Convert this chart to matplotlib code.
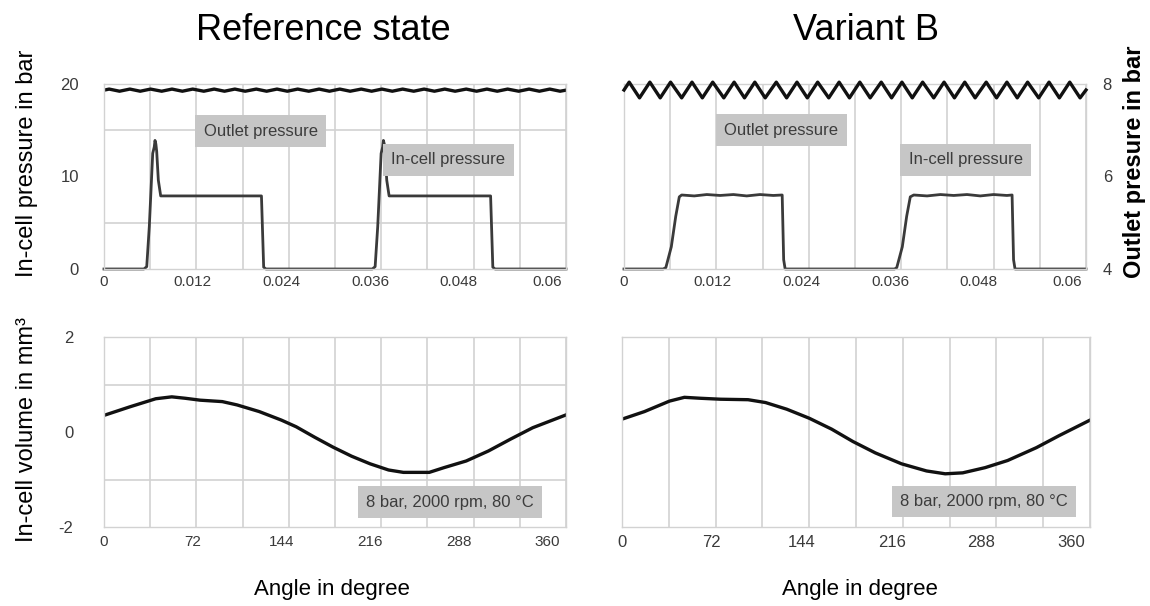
import numpy as np
import matplotlib
matplotlib.use("Agg")
import matplotlib.pyplot as plt
from matplotlib.ticker import MultipleLocator, FixedLocator, FixedFormatter

# ---- data ----
# in-cell pressure, reference state (time in s, pressure in bar)
ref_t = [0, 0.0054, 0.00578, 0.00613, 0.00659, 0.0068, 0.0069, 0.00702, 0.00713,
         0.00735, 0.00767, 0.0213, 0.0216, 0.0219,
         0.0363, 0.03668, 0.03703, 0.03749, 0.0377, 0.0378, 0.03792, 0.03803,
         0.03825, 0.03857, 0.0523, 0.0526, 0.0529, 0.0625]
ref_p = [0, 0, 0.25, 4.6, 12.5, 13.2, 13.9, 13.5, 12.7,
         9.6, 7.9, 7.9, 0.2, 0,
         0, 0.25, 4.6, 12.5, 13.2, 13.9, 13.5, 12.7,
         9.6, 7.9, 7.9, 0.2, 0, 0]

# in-cell pressure, variant B
varb_t = [0, 0.0053, 0.00566, 0.0064, 0.0070, 0.00748, 0.0078, 0.0095, 0.0112,
          0.0130, 0.0148, 0.0166, 0.0184, 0.0202, 0.0214, 0.0216, 0.0218,
          0.0366, 0.0369, 0.03765, 0.03824, 0.03873, 0.0392, 0.0410, 0.0428,
          0.0446, 0.0464, 0.0482, 0.0500, 0.0518, 0.0525, 0.0527, 0.0529, 0.0625]
varb_p = [0, 0, 0.15, 2.4, 5.7, 7.8, 8.0, 7.9, 8.05,
          7.95, 8.05, 7.9, 8.05, 7.95, 8.0, 1.0, 0,
          0, 0.15, 2.4, 5.7, 7.8, 8.0, 7.9, 8.05,
          7.95, 8.05, 7.9, 8.05, 7.95, 8.0, 1.0, 0, 0]

# outlet pressure ripple: peak and trough instants (s)
rip_peak_t = [0.0007, 0.0035, 0.0063, 0.0092, 0.0120, 0.0149, 0.0177, 0.0206,
              0.0234, 0.0262, 0.0291, 0.0319, 0.0348, 0.0376, 0.0404, 0.0433,
              0.0461, 0.0490, 0.0518, 0.0546, 0.0575, 0.0603]
rip_trough_t = [0.0021, 0.0049, 0.0078, 0.0106, 0.0135, 0.0163, 0.0191, 0.0220,
                0.0248, 0.0277, 0.0305, 0.0333, 0.0362, 0.0390, 0.0419, 0.0447,
                0.0475, 0.0504, 0.0532, 0.0561, 0.0589, 0.0617]
ref_outlet_hi, ref_outlet_lo = 19.45, 19.22    # left axis, bar
varb_outlet_hi, varb_outlet_lo = 8.04, 7.70   # right axis, bar

# in-cell volume vs angle
vol_ref_a = [0, 21, 42, 55, 66, 78, 96, 108, 126, 144, 156, 171, 186, 201, 216,
             231, 243, 264, 276, 294, 312, 330, 348, 375]
vol_ref_v = [0.35, 0.53, 0.70, 0.74, 0.71, 0.67, 0.64, 0.57, 0.43, 0.25, 0.11,
             -0.11, -0.32, -0.51, -0.67, -0.80, -0.85, -0.85, -0.75, -0.61,
             -0.40, -0.15, 0.09, 0.36]
vol_b_a = [0, 18, 38, 50, 63, 79, 101, 115, 132, 150, 168, 185, 203, 224, 244,
           259, 273, 291, 309, 332, 350, 375]
vol_b_v = [0.27, 0.43, 0.65, 0.73, 0.71, 0.69, 0.68, 0.62, 0.48, 0.29, 0.06,
           -0.20, -0.44, -0.67, -0.82, -0.88, -0.86, -0.75, -0.60, -0.33, -0.08, 0.25]

top_xticks = [0, 0.012, 0.024, 0.036, 0.048, 0.06]
top_xlabels = ["0", "0.012", "0.024", "0.036", "0.048", "0.06"]
bot_xticks = [0, 72, 144, 216, 288, 360]
bot_xlabels = ["0", "72", "144", "216", "288", "360"]


def ripple(hi, lo):
    t = [0] + sorted(rip_peak_t + rip_trough_t) + [0.0625]
    v = [(hi + lo) / 2]
    for tt in t[1:-1]:
        v.append(hi if tt in rip_peak_t else lo)
    v.append((hi + lo) / 2)
    return t, v


SANS = ["Liberation Sans", "DejaVu Sans"]
NARROW = ["Liberation Sans Narrow", "Liberation Sans", "DejaVu Sans"]
GRID = "#d2d2d2"
TICKC = "#3a3a3a"
BOXC = "#c6c6c6"

fig = plt.figure(figsize=(11.5, 6.06), dpi=100)
W, H = 1150, 606


def axes_px(x0, y0, x1, y1):
    return fig.add_axes([x0 / W, 1 - y1 / H, (x1 - x0) / W, (y1 - y0) / H])


def style(ax, xmax, xstep, xt, xl, ymin, ymax, ystep):
    ax.set_xlim(0, xmax)
    ax.set_ylim(ymin, ymax)
    ax.xaxis.set_minor_locator(MultipleLocator(xstep))
    ax.yaxis.set_minor_locator(MultipleLocator(ystep))
    ax.xaxis.set_major_locator(FixedLocator(xt))
    ax.xaxis.set_major_formatter(FixedFormatter(xl))
    ax.grid(False, which="major")
    ax.grid(True, which="minor", color=GRID, lw=1.2)
    ax.set_axisbelow(True)
    ax.tick_params(which="both", length=0, colors=TICKC)
    for s in ax.spines.values():
        s.set_color(GRID)
        s.set_linewidth(1.0)
    for lab in ax.get_xticklabels() + ax.get_yticklabels():
        lab.set_family(NARROW)
        lab.set_fontsize(11)


def box(ax, x, y, s):
    ax.text(x, y, s, ha="center", va="center", fontsize=12, family=SANS,
            color="#3c3c3c",
            bbox=dict(boxstyle="square,pad=0.5", fc=BOXC, ec="none"))


# top left
ax1 = axes_px(104, 84, 566, 269)
style(ax1, 0.0625, 0.00625, top_xticks, top_xlabels, 0, 20, 5)
ax1.yaxis.set_major_locator(FixedLocator([0, 10, 20]))
ax1.tick_params(axis="y", pad=18)
ax1.tick_params(axis="x", pad=4)
ot, ov = ripple(ref_outlet_hi, ref_outlet_lo)
ax1.plot(ot, ov, color="#111111", lw=2.4)
ax1.plot(ref_t, ref_p, color="#3a3a3a", lw=2.0, clip_on=False)
box(ax1, 0.0212, 14.9, "Outlet pressure")
box(ax1, 0.0466, 11.8, "In-cell pressure")
for lab in ax1.get_yticklabels():
    lab.set_family(NARROW)
    lab.set_fontsize(12)

# top right
ax2 = axes_px(624, 84, 1086, 269)
style(ax2, 0.0625, 0.00625, top_xticks, top_xlabels, 0, 20, 5)
ax2.tick_params(axis="y", labelleft=False)
ax2.tick_params(axis="x", pad=4)
ax2.plot(varb_t, varb_p, color="#3a3a3a", lw=2.0, clip_on=False)
ax2r = ax2.twinx()
ax2r.set_ylim(4, 8)
ax2r.yaxis.set_major_locator(FixedLocator([4, 6, 8]))
ax2r.tick_params(length=0, colors=TICKC, pad=12)
for s in ax2r.spines.values():
    s.set_visible(False)
for lab in ax2r.get_yticklabels():
    lab.set_family(NARROW)
    lab.set_fontsize(12)
ot, ov = ripple(varb_outlet_hi, varb_outlet_lo)
ax2r.plot(ot, ov, color="#111111", lw=2.4, clip_on=False)
box(ax2, 0.0213, 15.0, "Outlet pressure")
box(ax2, 0.0462, 11.8, "In-cell pressure")

# bottom left
ax3 = axes_px(104, 337, 566, 527)
style(ax3, 375, 37.5, bot_xticks, bot_xlabels, -2, 2, 1)
ax3.yaxis.set_major_locator(FixedLocator([-2, 0, 2]))
ax3.yaxis.set_major_formatter(FixedFormatter(["-2", "0", "2"]))
ax3.tick_params(axis="y", pad=22)
ax3.tick_params(axis="x", pad=6)
for lab in ax3.get_yticklabels():
    lab.set_family(NARROW)
    lab.set_fontsize(12)
ax3.plot(vol_ref_a, vol_ref_v, color="#111111", lw=2.4)
box(ax3, 281, -1.48, "8 bar, 2000 rpm, 80 °C")

# bottom right
ax4 = axes_px(622, 337, 1090, 527)
style(ax4, 375, 37.5, bot_xticks, bot_xlabels, -2, 2, 1)
ax4.tick_params(axis="y", labelleft=False)
ax4.tick_params(axis="x", pad=6)
for lab in ax4.get_xticklabels():
    lab.set_fontsize(12)
ax4.plot(vol_b_a, vol_b_v, color="#111111", lw=2.4)
box(ax4, 290, -1.46, "8 bar, 2000 rpm, 80 °C")

# titles and axis labels
fig.text(323 / W, 1 - 30 / H, "Reference state", ha="center", va="center",
         fontsize=26, family=SANS)
fig.text(866 / W, 1 - 30 / H, "Variant B", ha="center", va="center",
         fontsize=26, family=SANS)
fig.text(27 / W, 1 - 163 / H, "In-cell pressure in bar", rotation=90,
         ha="center", va="center", fontsize=17, family=SANS)
fig.text(27 / W, 1 - 430 / H, "In-cell volume in mm³", rotation=90,
         ha="center", va="center", fontsize=17, family=SANS)
fig.text(1135 / W, 1 - 162 / H, "Outlet presure in bar", rotation=90,
         ha="center", va="center", fontsize=17, family=SANS, weight="bold")
fig.text(332 / W, 1 - 590 / H, "Angle in degree", ha="center", va="center",
         fontsize=16, family=SANS)
fig.text(860 / W, 1 - 590 / H, "Angle in degree", ha="center", va="center",
         fontsize=16, family=SANS)

fig.savefig("out.png", dpi=100)
